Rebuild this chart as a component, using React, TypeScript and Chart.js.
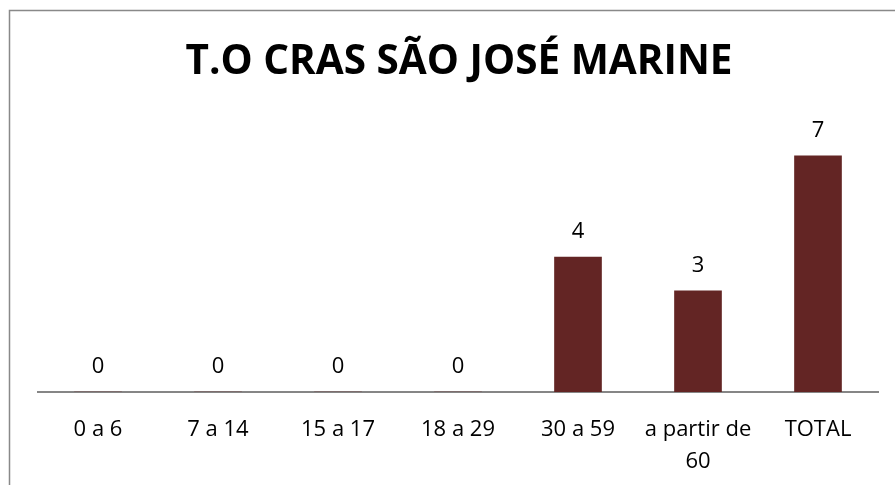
import React, { useEffect, useRef } from "react";
import { Chart, registerables } from "chart.js";

Chart.register(...registerables);

const TITLE = "T.O CRAS SÃO JOSÉ MARINE";
const categories: (string | string[])[] = [
  "0 a 6",
  "7 a 14",
  "15 a 17",
  "18 a 29",
  "30 a 59",
  ["a partir de", "60"],
  "TOTAL",
];
const values = [0, 0, 0, 0, 4, 3, 7];
const yMin = 0;
const yMax = 8;

const FONT = "'Open Sans', sans-serif";
const BAR_COLOR = "#632524";

export default function App() {
  const ref = useRef<HTMLCanvasElement | null>(null);

  useEffect(() => {
    document.body.style.margin = "0";
    const canvas = ref.current;
    if (!canvas) return;

    const frame = {
      id: "frame",
      beforeDraw(chart: any) {
        const ctx = chart.ctx;
        ctx.save();
        ctx.fillStyle = "#ffffff";
        ctx.fillRect(0, 0, chart.width, chart.height);
        ctx.strokeStyle = "#898989";
        ctx.lineWidth = 1.5;
        ctx.strokeRect(9.5, 10.5, chart.width + 20, chart.height + 20);
        ctx.restore();
      },
    };

    const titlePlugin = {
      id: "titleText",
      afterDraw(chart: any) {
        const ctx = chart.ctx;
        const area = chart.chartArea;
        ctx.save();
        ctx.fillStyle = "#000000";
        ctx.font = `bold 40.5px ${FONT}`;
        ctx.textAlign = "center";
        ctx.textBaseline = "alphabetic";
        ctx.fillText(TITLE, (area.left + area.right) / 2 + 1, 74);
        ctx.restore();
      },
    };

    const valueLabels = {
      id: "valueLabels",
      afterDatasetsDraw(chart: any) {
        const ctx = chart.ctx;
        const meta = chart.getDatasetMeta(0);
        ctx.save();
        ctx.fillStyle = "#000000";
        ctx.font = `22px ${FONT}`;
        ctx.textAlign = "center";
        ctx.textBaseline = "alphabetic";
        meta.data.forEach((el: any, i: number) => {
          ctx.fillText(String(values[i]), el.x, el.y - 19);
        });
        ctx.restore();
      },
    };

    const chart = new Chart(canvas, {
      type: "bar",
      data: {
        labels: categories,
        datasets: [
          {
            data: values,
            backgroundColor: BAR_COLOR,
            borderWidth: 0,
            barThickness: 47,
          },
        ],
      },
      options: {
        responsive: false,
        animation: false,
        devicePixelRatio: 1,
        layout: { padding: { left: 38, right: 17, top: 122, bottom: 0 } },
        plugins: {
          legend: { display: false },
          title: { display: false },
          tooltip: { enabled: false },
        },
        scales: {
          x: {
            grid: { display: false, drawTicks: false },
            border: { display: true, color: "#868686", width: 2 },
            ticks: {
              color: "#000000",
              font: { family: FONT, size: 22, lineHeight: 1.45 },
              padding: 22,
              maxRotation: 0,
              autoSkip: false,
            },
            afterFit(scale: any) {
              scale.height = 93;
            },
          },
          y: {
            display: false,
            min: yMin,
            max: yMax,
          },
        },
      },
      plugins: [frame, titlePlugin, valueLabels],
    });

    return () => chart.destroy();
  }, []);

  return <canvas ref={ref} width={895} height={485} style={{ display: "block" }} />;
}
